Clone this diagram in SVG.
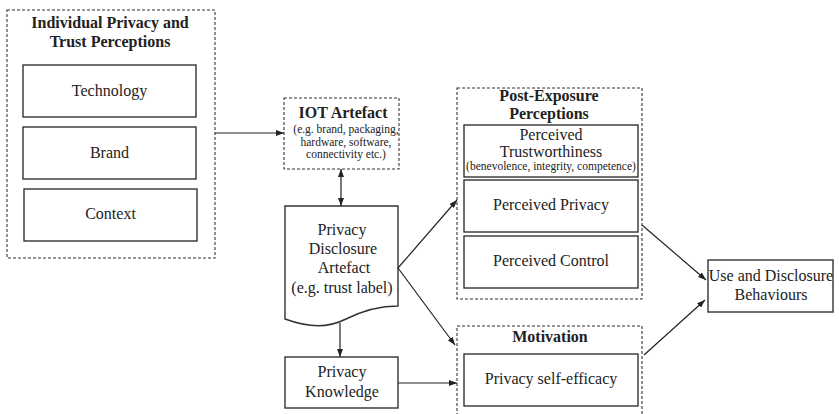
<svg xmlns="http://www.w3.org/2000/svg" width="839" height="414" viewBox="0 0 839 414">
  <style>
    .bg { fill: #ffffff; }
    .dash { fill: none; stroke: #333; stroke-width: 1.1; stroke-dasharray: 3 2; }
    .box { fill: #ffffff; stroke: #333; stroke-width: 1.4; }
    .t { font-family: "Liberation Serif", "Times New Roman", serif; font-size: 16px; fill: #222; text-anchor: middle; }
    .b { font-weight: bold; }
    .s { font-size: 11.5px; }
    .edge { fill: none; stroke: #222; stroke-width: 1.2; }
  </style>
  <defs>
    <marker id="arrow" viewBox="0 0 8 6" refX="8" refY="3" markerWidth="8" markerHeight="6" markerUnits="userSpaceOnUse" orient="auto-start-reverse">
      <path d="M0,0 L8,3 L0,6 Z" fill="#222"/>
    </marker>
  </defs>
  <rect class="bg" x="0" y="0" width="839" height="414"/>

  <!-- Individual perceptions group -->
  <g id="individual-perceptions">
    <rect class="dash" x="7" y="10" width="208" height="248"/>
    <text class="t b" x="110" y="27.5">Individual Privacy and</text>
    <text class="t b" x="110" y="46.5">Trust Perceptions</text>
    <g id="technology">
      <rect class="box" x="23" y="65" width="173" height="52"/>
      <text class="t" x="109.5" y="96">Technology</text>
    </g>
    <g id="brand">
      <rect class="box" x="23" y="127" width="173" height="52"/>
      <text class="t" x="109.5" y="158">Brand</text>
    </g>
    <g id="context">
      <rect class="box" x="24" y="189" width="173" height="52"/>
      <text class="t" x="110.5" y="219">Context</text>
    </g>
  </g>

  <!-- IOT artefact -->
  <g id="iot-artefact">
    <rect class="dash" x="284" y="98" width="115" height="71"/>
    <text class="t b" x="343" y="118">IOT Artefact</text>
    <text class="t s" x="346" y="133">(e.g. brand, packaging,</text>
    <text class="t s" x="346" y="145.5">hardware, software,</text>
    <text class="t s" x="346" y="158">connectivity etc.)</text>
  </g>

  <!-- Privacy disclosure artefact (document shape) -->
  <g id="disclosure-artefact">
    <path class="box" d="M285,206 L398,206 L398,306 C380,306 362,311 346,319 C328,328 310,328 285,319 Z"/>
    <text class="t" x="342" y="235">Privacy</text>
    <text class="t" x="343" y="254">Disclosure</text>
    <text class="t" x="344" y="273">Artefact</text>
    <text class="t" x="342" y="293">(e.g. trust label)</text>
  </g>

  <!-- Privacy knowledge -->
  <g id="privacy-knowledge">
    <rect class="box" x="285" y="357" width="113" height="51"/>
    <text class="t" x="342" y="377">Privacy</text>
    <text class="t" x="342" y="397">Knowledge</text>
  </g>

  <!-- Post-exposure perceptions -->
  <g id="post-exposure">
    <rect class="dash" x="457" y="88" width="185" height="211"/>
    <text class="t b" x="549" y="101">Post-Exposure</text>
    <text class="t b" x="549" y="119">Perceptions</text>
    <g id="perceived-trustworthiness">
      <rect class="box" x="464" y="125" width="174" height="52"/>
      <text class="t" x="551" y="140">Perceived</text>
      <text class="t" x="551" y="157">Trustworthiness</text>
      <text class="t s" x="551" y="170">(benevolence, integrity, competence)</text>
    </g>
    <g id="perceived-privacy">
      <rect class="box" x="464" y="180" width="174" height="52"/>
      <text class="t" x="551" y="210">Perceived Privacy</text>
    </g>
    <g id="perceived-control">
      <rect class="box" x="464" y="236" width="174" height="52"/>
      <text class="t" x="551" y="266">Perceived Control</text>
    </g>
  </g>

  <!-- Motivation -->
  <g id="motivation">
    <rect class="dash" x="457" y="326" width="185" height="100"/>
    <text class="t b" x="550" y="342">Motivation</text>
    <g id="self-efficacy">
      <rect class="box" x="464" y="354" width="174" height="52"/>
      <text class="t" x="551" y="384">Privacy self-efficacy</text>
    </g>
  </g>

  <!-- Use and disclosure behaviours -->
  <g id="behaviours">
    <rect class="box" x="708" y="260" width="125" height="52"/>
    <text class="t" x="771" y="281">Use and Disclosure</text>
    <text class="t" x="771" y="300">Behaviours</text>
  </g>

  <!-- Connectors -->
  <g id="connectors">
    <line class="edge" x1="215" y1="133" x2="284" y2="133" marker-end="url(#arrow)"/>
    <line class="edge" x1="341" y1="169" x2="341" y2="206" marker-start="url(#arrow)" marker-end="url(#arrow)"/>
    <line class="edge" x1="340" y1="323" x2="340" y2="357" marker-end="url(#arrow)"/>
    <line class="edge" x1="398" y1="383" x2="457" y2="383" marker-end="url(#arrow)"/>
    <line class="edge" x1="398" y1="268" x2="457" y2="200" marker-end="url(#arrow)"/>
    <line class="edge" x1="398" y1="268" x2="455" y2="345" marker-end="url(#arrow)"/>
    <line class="edge" x1="642" y1="225" x2="706" y2="280" marker-end="url(#arrow)"/>
    <line class="edge" x1="644" y1="355" x2="705" y2="300" marker-end="url(#arrow)"/>
  </g>
</svg>
